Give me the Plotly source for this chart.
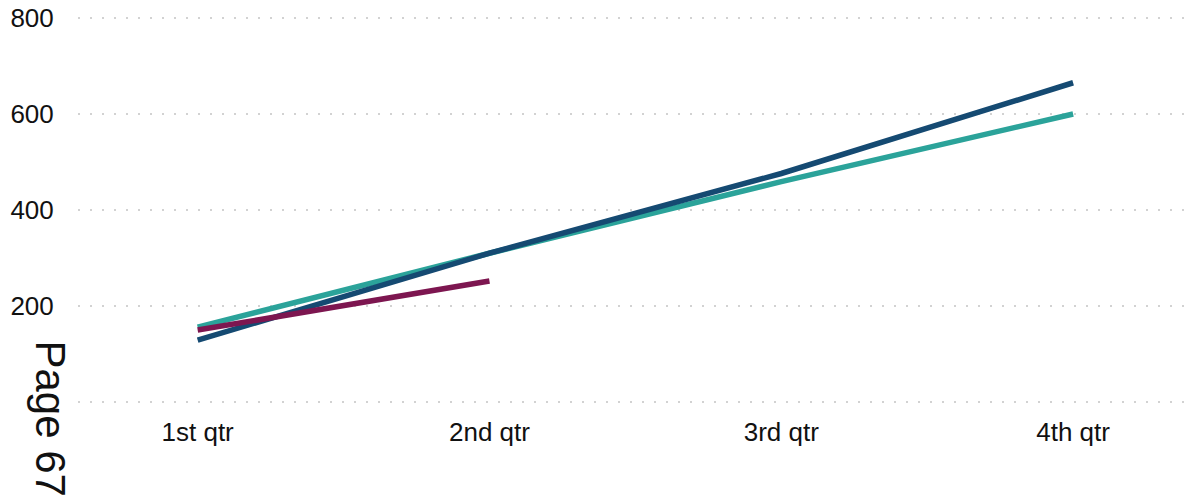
import plotly.graph_objects as go

quarters = ["1st qtr", "2nd qtr", "3rd qtr", "4th qtr"]
series_navy = [129, 310, 476, 665]
series_teal = [156, 310, 459, 600]
series_maroon = [150, 252]

y_tickvals = [0, 200, 400, 600, 800]
y_ticktext = ["", "200", "400", "600", "800"]

fig = go.Figure()
fig.add_trace(go.Scatter(x=quarters, y=series_teal, mode="lines",
                         line=dict(color="#2BA39A", width=5.5)))
fig.add_trace(go.Scatter(x=quarters, y=series_navy, mode="lines",
                         line=dict(color="#154A72", width=5.5)))
fig.add_trace(go.Scatter(x=quarters[:2], y=series_maroon, mode="lines",
                         line=dict(color="#7D1650", width=5.5)))

fig.update_layout(
    width=1184, height=501,
    margin=dict(l=78, r=0, t=16, b=97),
    paper_bgcolor="white", plot_bgcolor="white",
    showlegend=False,
    font=dict(family="Liberation Sans, Arial, sans-serif", size=26, color="#111"),
    xaxis=dict(type="category", range=[-0.41, 3.38], showgrid=False,
               zeroline=False, showline=False,
               ticks="outside", ticklen=5, tickcolor="rgba(0,0,0,0)"),
    yaxis=dict(range=[-4, 804], tickvals=y_tickvals, ticktext=y_ticktext,
               showgrid=True, gridcolor="#d2d2d2", gridwidth=2,
               griddash="2px,10px",
               zeroline=False, showline=False,
               ticks="outside", ticklen=18, tickcolor="rgba(0,0,0,0)"),
    annotations=[dict(text="Page 67", xref="paper", yref="paper",
                      x=-0.0253, y=-0.0374, xanchor="center", yanchor="middle",
                      textangle=90, showarrow=False,
                      font=dict(size=42, color="#111"))],
)

fig.write_html("out.html")
